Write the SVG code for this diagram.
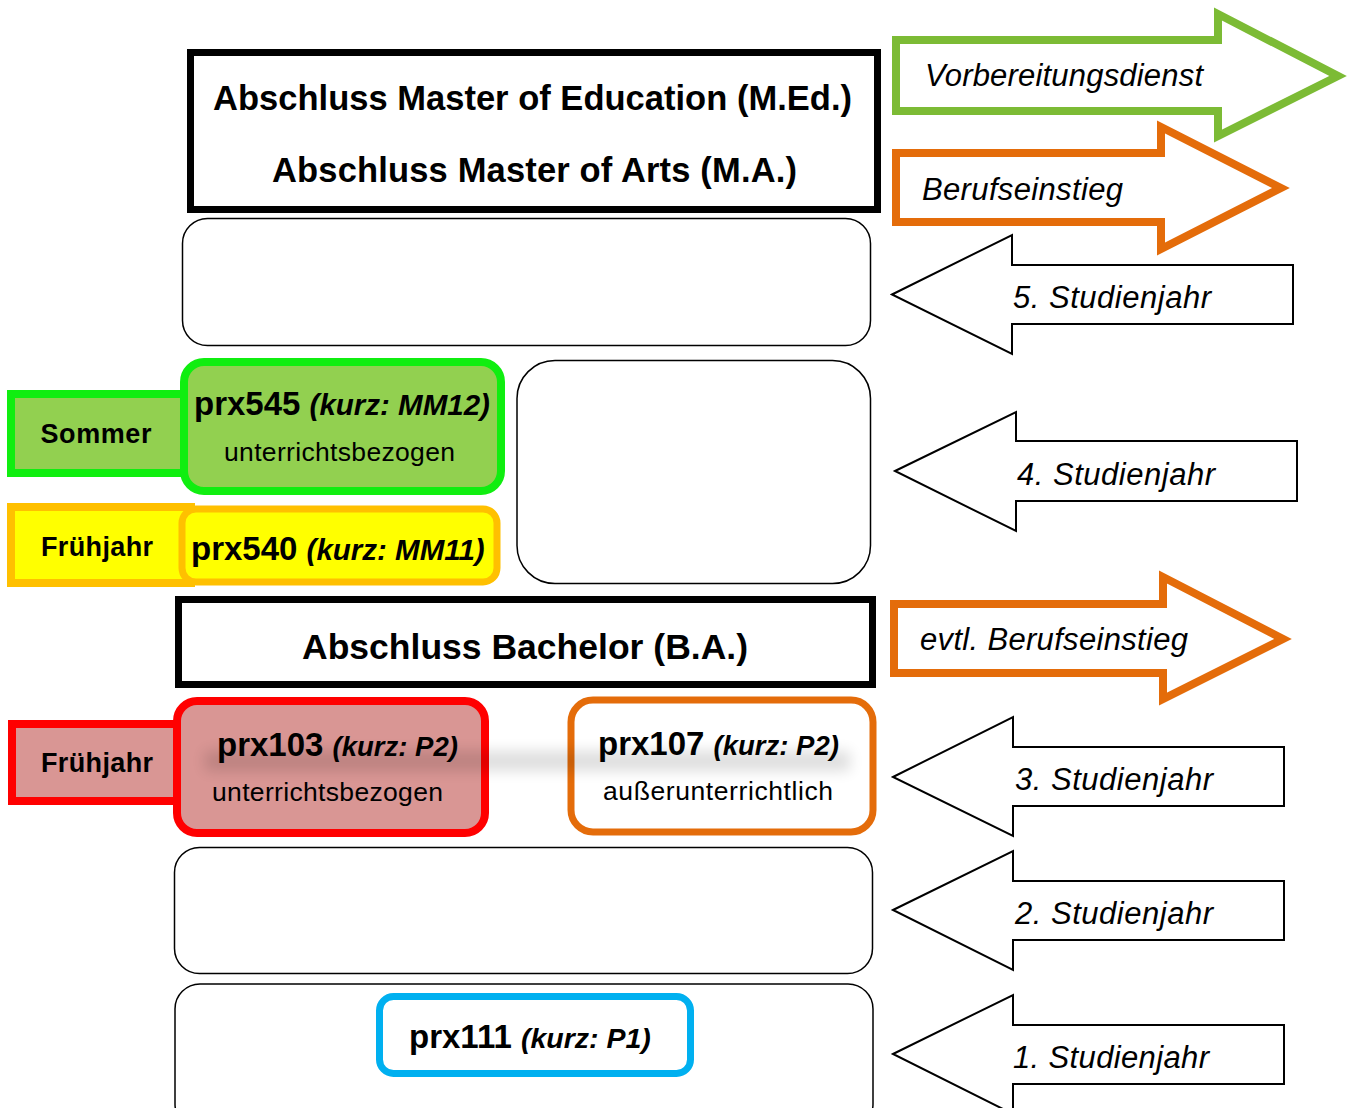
<svg xmlns="http://www.w3.org/2000/svg" width="1352" height="1108" viewBox="0 0 1352 1108">
<style>
.b{font-family:"Liberation Sans",Arial,sans-serif;font-weight:bold;fill:#000}
.r{font-family:"Liberation Sans",Arial,sans-serif;fill:#000}
.c{font-family:"Comic Sans MS","Liberation Sans",sans-serif;font-style:italic;font-size:31px;fill:#000}
.bi{font-style:italic}
.empty{fill:#fff;stroke:#000;stroke-width:1.5}
.year{fill:#fff;stroke:#000;stroke-width:2}
.out{fill:#fff;stroke-width:8}
</style>
<defs>
<filter id="blur" x="-20%" y="-200%" width="140%" height="500%"><feGaussianBlur stdDeviation="7"/></filter>
</defs>
<rect width="1352" height="1108" fill="#fff"/>

<g id="master">
<rect x="190.5" y="52.5" width="687" height="157" fill="#fff" stroke="#000" stroke-width="7"/>
<text class="b" x="532.5" y="110" font-size="34.5" text-anchor="middle" textLength="639">Abschluss Master of Education (M.Ed.)</text>
<text class="b" x="534.5" y="182" font-size="34.5" text-anchor="middle" textLength="525">Abschluss Master of Arts (M.A.)</text>
</g>

<g id="box-year5"><rect class="empty" x="182.5" y="218.5" width="688" height="127" rx="25"/></g>
<g id="box-year4-right"><rect class="empty" x="517" y="360.5" width="353.5" height="223" rx="38"/></g>

<g id="sommer">
<rect x="11" y="394" width="185" height="79" fill="#92D050" stroke="#10EE10" stroke-width="8"/>
<text class="b" x="96" y="443" font-size="27" text-anchor="middle" textLength="111">Sommer</text>
</g>
<g id="prx545">
<rect x="184" y="362" width="317" height="129" rx="20" fill="#92D050" stroke="#10EE10" stroke-width="8"/>
<text class="b" x="194" y="415" font-size="33">prx545 <tspan class="bi" font-size="29.5">(kurz: MM12)</tspan></text>
<text class="r" x="339.5" y="461" font-size="26.5" text-anchor="middle" textLength="231">unterrichtsbezogen</text>
</g>

<g id="fruehjahr-master">
<rect x="11" y="507" width="180" height="76" fill="#FFFF00" stroke="#FFC000" stroke-width="8"/>
<text class="b" x="97" y="556" font-size="27" text-anchor="middle" textLength="112">Frühjahr</text>
</g>
<g id="prx540">
<rect x="182" y="509" width="315" height="73" rx="14" fill="#FFFF00" stroke="#FFC000" stroke-width="7"/>
<text class="b" x="191" y="560" font-size="33">prx540 <tspan class="bi" font-size="29.5">(kurz: MM11)</tspan></text>
</g>

<g id="bachelor">
<rect x="178.5" y="599.5" width="694" height="85" fill="#fff" stroke="#000" stroke-width="7"/>
<text class="b" x="525" y="659" font-size="35.5" text-anchor="middle" textLength="446">Abschluss Bachelor (B.A.)</text>
</g>

<g id="fruehjahr-bachelor">
<rect x="12" y="724" width="170" height="77" fill="#D99694" stroke="#FF0000" stroke-width="8"/>
<text class="b" x="97" y="772" font-size="27" text-anchor="middle" textLength="112">Frühjahr</text>
</g>
<g id="prx103">
<rect x="177" y="701" width="308" height="132" rx="20" fill="#D99694" stroke="#FF0000" stroke-width="8"/>
</g>
<g id="prx107">
<rect x="571" y="700" width="302" height="132" rx="22" fill="#fff" stroke="#E46C0A" stroke-width="7"/>
</g>
<rect x="205" y="751" width="645" height="20" fill="#000" opacity="0.13" filter="url(#blur)"/>
<g id="prx103-text">
<text class="b" x="217" y="756" font-size="33">prx103 <tspan class="bi" font-size="27.5">(kurz: P2)</tspan></text>
<text class="r" x="327.5" y="801" font-size="26.5" text-anchor="middle" textLength="231">unterrichtsbezogen</text>
</g>
<g id="prx107-text">
<text class="b" x="598" y="755" font-size="33">prx107 <tspan class="bi" font-size="27.5">(kurz: P2)</tspan></text>
<text class="r" x="718" y="800" font-size="26.5" text-anchor="middle" textLength="230">außerunterrichtlich</text>
</g>

<g id="box-year2"><rect class="empty" x="174.5" y="847.5" width="698" height="126" rx="25"/></g>
<g id="box-year1"><rect class="empty" x="175" y="984" width="698" height="145" rx="25"/></g>
<g id="prx111">
<rect x="379.5" y="996.5" width="311" height="77" rx="14" fill="#fff" stroke="#00B0F0" stroke-width="7"/>
<text class="b" x="409" y="1048" font-size="33">prx111 <tspan class="bi" font-size="28.5">(kurz: P1)</tspan></text>
</g>

<g id="arrow-vorbereitungsdienst">
<path class="out" stroke="#7CBB35" d="M896,40 H1218 V14 L1338,76 L1218,136 V111 H896 Z"/>
<text class="c" x="925" y="86" textLength="278">Vorbereitungsdienst</text>
</g>
<g id="arrow-berufseinstieg">
<path class="out" stroke="#E46C0A" d="M896,153 H1161 V127 L1281,188 L1161,249 V222 H896 Z"/>
<text class="c" x="922" y="200" textLength="201">Berufseinstieg</text>
</g>
<g id="arrow-year5">
<path class="year" d="M892,294.5 L1012,235 V265 H1293 V324 H1012 V354 Z"/>
<text class="c" x="1013" y="308" textLength="198">5. Studienjahr</text>
</g>
<g id="arrow-year4">
<path class="year" d="M895,471 L1016,412 V441 H1297 V501 H1016 V531 Z"/>
<text class="c" x="1017" y="485" textLength="198">4. Studienjahr</text>
</g>
<g id="arrow-evtl-berufseinstieg">
<path class="out" stroke="#E46C0A" d="M894,604 H1163 V577 L1283,639 L1163,699 V673 H894 Z"/>
<text class="c" x="920" y="650" textLength="268">evtl. Berufseinstieg</text>
</g>
<g id="arrow-year3">
<path class="year" d="M893,777 L1013,717 V747 H1284 V806 H1013 V836 Z"/>
<text class="c" x="1015" y="790" textLength="198">3. Studienjahr</text>
</g>
<g id="arrow-year2">
<path class="year" d="M893,910 L1013,851 V881 H1284 V940 H1013 V970 Z"/>
<text class="c" x="1015" y="924" textLength="198">2. Studienjahr</text>
</g>
<g id="arrow-year1">
<path class="year" d="M893,1054 L1013,995 V1025 H1284 V1084 H1013 V1114 Z"/>
<text class="c" x="1013" y="1068" textLength="196">1. Studienjahr</text>
</g>
<g id="connectors"/>
</svg>
